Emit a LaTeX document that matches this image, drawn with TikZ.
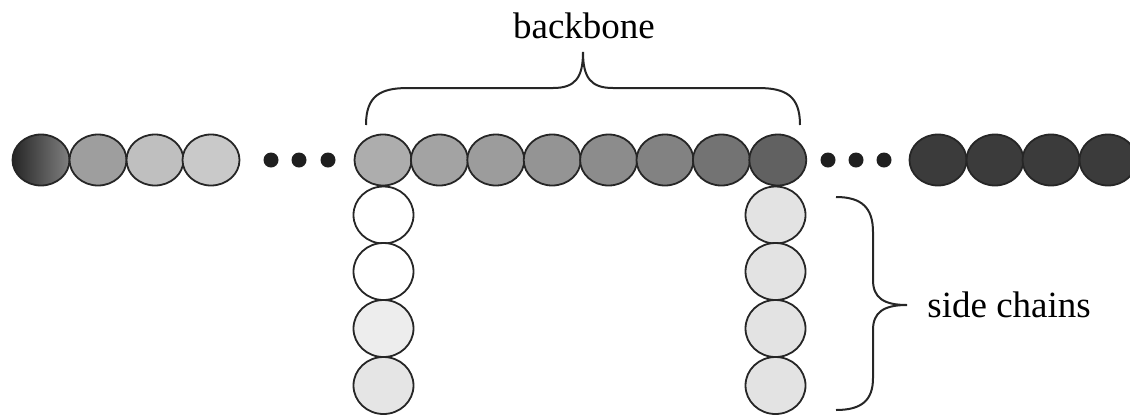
\documentclass[tikz,border=0pt]{standalone}
\usepackage{fontspec}
\setmainfont{Liberation Serif}
\usetikzlibrary{shapes.geometric}
\begin{document}
\begin{tikzpicture}[x=0.5pt,y=-0.5pt,
  bead/.style={ellipse,draw=black!85,line width=0.9pt,inner sep=0pt,
               minimum width=28.5pt,minimum height=25.5pt},
  sidebead/.style={ellipse,draw=black!85,line width=0.9pt,inner sep=0pt,
               minimum width=30pt,minimum height=28.5pt},
  ellipsisdot/.style={circle,fill=black!88,inner sep=0pt,minimum size=7.5pt},
  bracket/.style={line width=1pt,draw=black!85},
  tag/.style={font=\fontsize{18.5}{22}\selectfont,inner sep=0pt}]

\clip (0,0) rectangle (1130,414);

% left end of the chain
\node[bead,left color=black!85,right color=black!50] (l1) at (41,160) {};
\foreach \x/\g [count=\i from 2] in {98/38,155/25,211/21}
  \node[bead,fill=black!\g] (l\i) at (\x,160) {};

\foreach \x [count=\i] in {271,299,328}
  \node[ellipsisdot] (dl\i) at (\x,160) {};

% backbone segment
\foreach \g [count=\i] in {32,36,39,42,45,49,55,62}
  \node[bead,fill=black!\g] (b\i) at ({383+56.4*(\i-1)},160) {};

\foreach \x [count=\i] in {828,856,884}
  \node[ellipsisdot] (dr\i) at (\x,160) {};

% right end of the chain
\foreach \x [count=\i] in {938,995,1051,1108}
  \node[bead,fill=black!77] (r\i) at (\x,160) {};

% side chains
\foreach \y/\g [count=\i] in {215/0,271.5/0,328.5/7,385.5/10}
  \node[sidebead,fill=black!\g] (sl\i) at (383.5,\y) {};
\foreach \y [count=\i] in {215,271.5,328.5,385.5}
  \node[sidebead,fill=black!11] (sr\i) at (775.5,\y) {};

% brace over the backbone
\draw[bracket] (366,125) .. controls (366,96) and (380,88) .. (408,88)
  -- (553,88) .. controls (575,88) and (583,78) .. (583,52)
  .. controls (583,78) and (591,88) .. (613,88)
  -- (758,88) .. controls (786,88) and (800,96) .. (800,125);
\node[tag,anchor=base] (bbtext) at (584,38) {backbone};

% brace beside the side chains
\draw[bracket] (836,197) .. controls (862,197) and (873,208) .. (873,232)
  -- (873,280) .. controls (873,298) and (884,305) .. (907,305)
  .. controls (884,305) and (873,312) .. (873,330)
  -- (873,378) .. controls (873,400) and (862,410) .. (836,410);
\node[tag,anchor=base west] (sctext) at (927,317) {side chains};
\end{tikzpicture}
\end{document}
